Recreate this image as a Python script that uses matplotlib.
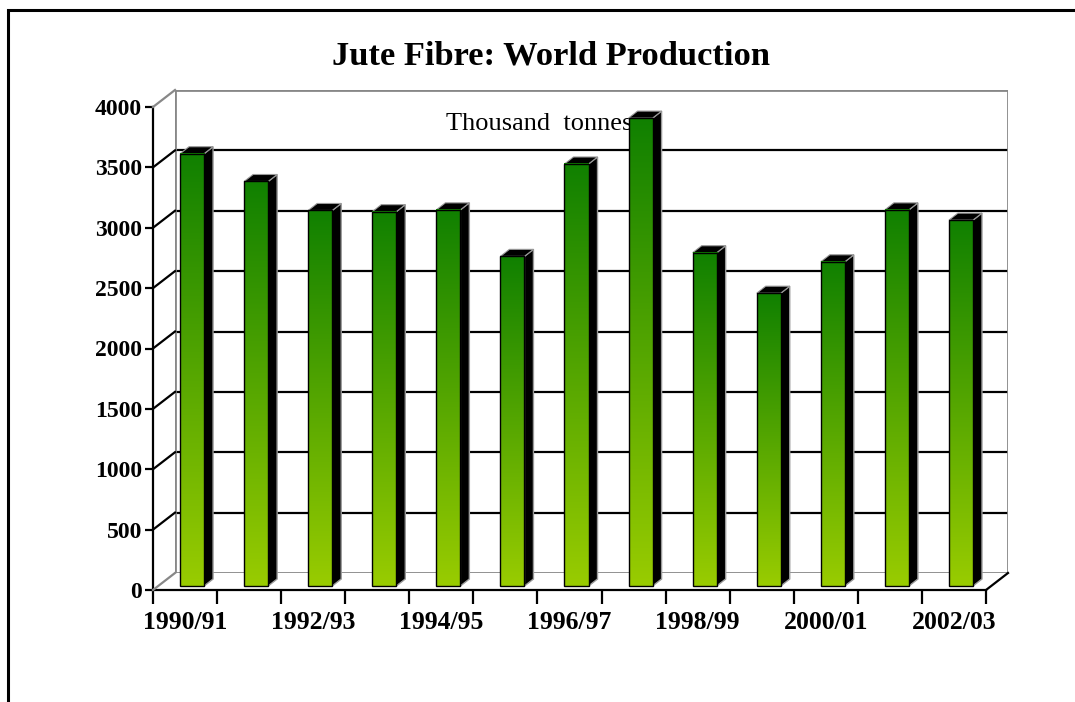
import numpy as np
import matplotlib
matplotlib.use('Agg')
import matplotlib.pyplot as plt
from matplotlib.patches import Polygon, Rectangle
from matplotlib.lines import Line2D
from matplotlib.transforms import offset_copy, IdentityTransform

seasons = ['1990/91', '1991/92', '1992/93', '1993/94', '1994/95', '1995/96', '1996/97',
           '1997/98', '1998/99', '1999/00', '2000/01', '2001/02', '2002/03']
production = [3580, 3350, 3110, 3100, 3115, 2730, 3495, 3875, 2760, 2425, 2685, 3115, 3030]
yticks = [0, 500, 1000, 1500, 2000, 2500, 3000, 3500, 4000]

SERIF = 'Liberation Serif'
W, H = 1075, 702
DPI = 100

# depth offsets in pixels (x right, y up)
FRONT = (-22, -17)      # front plane of the floor
BAR_FRONT = (-15, -13)  # front face of the columns
BAR_BACK = (-6, -6)     # back face of the columns
BAR_W = 0.375

fig = plt.figure(figsize=(W / DPI, H / DPI), dpi=DPI)
fig.patch.set_facecolor('white')

# outer chart frame
fig.add_artist(Rectangle((8 / W, -0.1), 1.2, 1 - 10 / H + 0.1, transform=fig.transFigure,
                         fill=False, edgecolor='black', linewidth=2.2))

# back wall
wall = [175, 90, 1008, 573]
ax = fig.add_axes([wall[0] / W, 1 - wall[3] / H, (wall[2] - wall[0]) / W, (wall[3] - wall[1]) / H])
n = len(seasons)
ax.set_xlim(0, n)
ax.set_ylim(0, 4000)
ax.axis('off')

# front axes (offset plane) carrying the ticks and labels
fx, fy = FRONT
axf = fig.add_axes([(wall[0] + fx) / W, 1 - (wall[3] - fy) / H,
                    (wall[2] - wall[0]) / W, (wall[3] - wall[1]) / H])
axf.set_xlim(0, n)
axf.set_ylim(0, 4000)
axf.patch.set_visible(False)
for s in ['top', 'right']:
    axf.spines[s].set_visible(False)
axf.spines['left'].set_linewidth(1.6)
axf.spines['bottom'].set_linewidth(1.6)
axf.set_yticks(yticks)
axf.set_yticklabels([str(v) for v in yticks], fontfamily=SERIF, fontweight='bold', fontsize=17)
axf.tick_params(axis='y', direction='out', length=6, width=1.6, pad=2)
axf.set_xticks(np.arange(0, n + 1))
axf.set_xticklabels([])
axf.tick_params(axis='x', which='major', direction='out', length=10, width=1.6)
axf.set_xticks(np.arange(0, n, 2) + 0.5, minor=True)
axf.set_xticklabels(seasons[::2], minor=True, fontfamily=SERIF, fontweight='bold', fontsize=18.5)
axf.tick_params(axis='x', which='minor', length=0, pad=15)

fig.canvas.draw()


def px(trans, x, y, off):
    p = trans.transform((x, y))
    return (p[0] + off[0], p[1] + off[1])


td = ax.transData
ident = IdentityTransform()

# gridlines on the back wall and the side diagonals
for v in yticks:
    col = '#888888' if v in (0, 4000) else 'black'
    ax.hlines(v, 0, n, colors=col, linewidth=1.6 if v not in (0, 4000) else 2.0, zorder=1)
    a = px(td, 0, v, (0, 0))
    b = px(td, 0, v, FRONT)
    fig.add_artist(Line2D([b[0] / W, a[0] / W], [b[1] / H, a[1] / H], color=col, linewidth=1.6))
ax.vlines([0, n], 0, 4000, colors='#888888', linewidth=2.0, zorder=1)
a = px(td, n, 0, (0, 0))
b = px(td, n, 0, FRONT)
fig.add_artist(Line2D([b[0] / W, a[0] / W], [b[1] / H, a[1] / H], color='black', linewidth=1.6))

ax.text(0.325, 0.93, 'Thousand  tonnes', transform=ax.transAxes, fontfamily=SERIF,
        fontsize=19, ha='left', va='center', zorder=1.5)

# green gradient used on every column face
top_c = np.array([16, 128, 0]) / 255
bot_c = np.array([153, 204, 0]) / 255
t = np.linspace(0, 1, 256)[:, None]
grad = (top_c * (1 - t) + bot_c * t)[:, None, :]

bar_front_tr = offset_copy(td, fig=fig, x=BAR_FRONT[0], y=BAR_FRONT[1], units='dots')
for i, v in enumerate(production):
    x0 = i + 0.5 - BAR_W / 2
    x1 = i + 0.5 + BAR_W / 2
    # side face
    side = [px(td, x1, 0, BAR_FRONT), px(td, x1, v, BAR_FRONT),
            px(td, x1, v, BAR_BACK), px(td, x1, 0, BAR_BACK)]
    ax.add_patch(Polygon(side, closed=True, transform=ident, facecolor='black',
                         edgecolor='#9a9a9a', linewidth=1.0, zorder=3, clip_on=False))
    # top face
    top = [px(td, x0, v, BAR_FRONT), px(td, x1, v, BAR_FRONT),
           px(td, x1, v, BAR_BACK), px(td, x0, v, BAR_BACK)]
    ax.add_patch(Polygon(top, closed=True, transform=ident, facecolor='black',
                         edgecolor='#9a9a9a', linewidth=0.8, zorder=3, clip_on=False))
    # front face with gradient
    im = ax.imshow(grad, extent=(x0, x1, 0, v), transform=bar_front_tr, aspect='auto',
                   interpolation='bilinear', zorder=4, clip_on=False)
    ax.add_patch(Rectangle((x0, 0), x1 - x0, v, transform=bar_front_tr, fill=False,
                           edgecolor='black', linewidth=1.0, zorder=5, clip_on=False))

ax.set_xlim(0, n)
ax.set_ylim(0, 4000)

fig.text(551 / W, 1 - 56 / H, 'Jute Fibre: World Production', fontfamily=SERIF,
         fontweight='bold', fontsize=24.8, ha='center', va='center')

fig.savefig('out.png', dpi=DPI)
